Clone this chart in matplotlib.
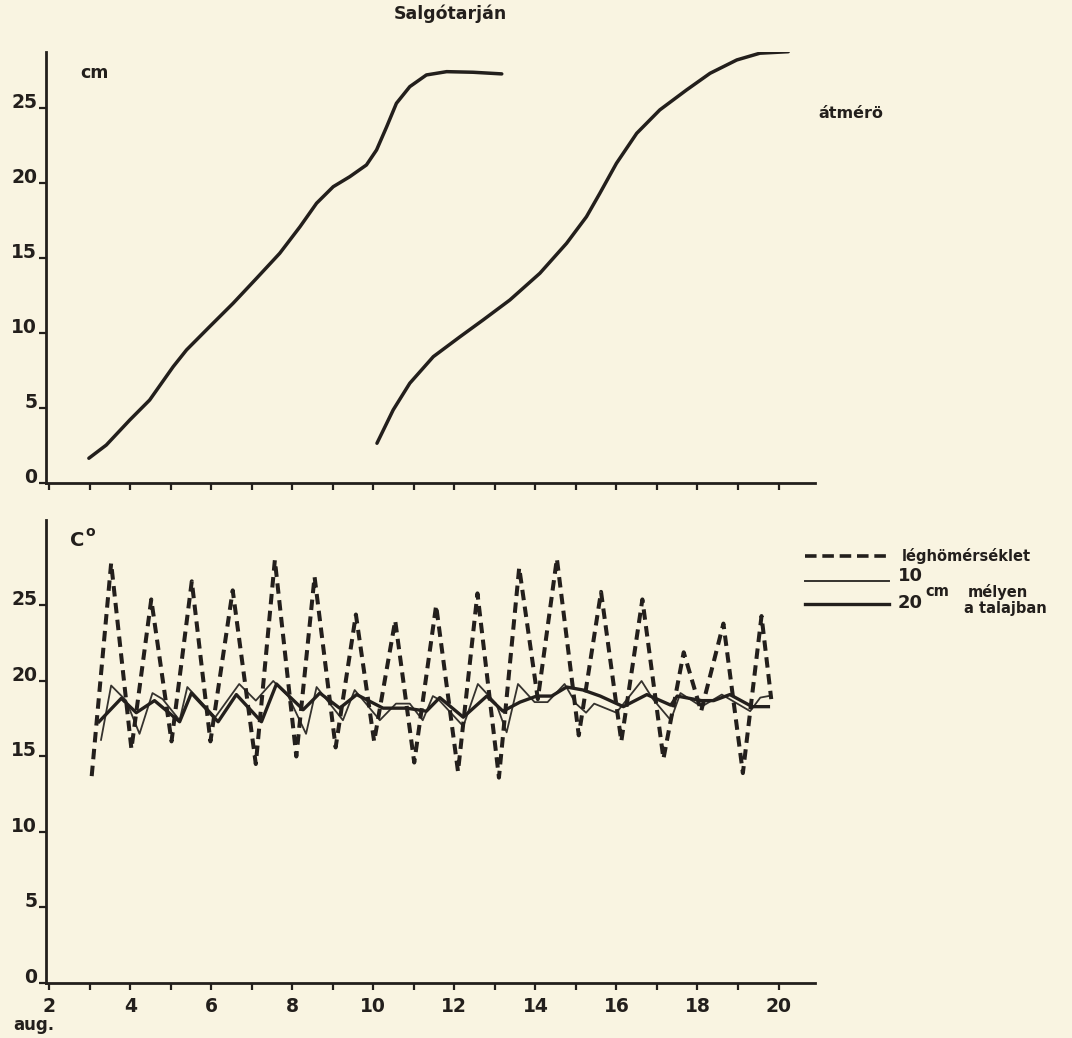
import matplotlib.pyplot as plt
from matplotlib.lines import Line2D

# top panel: diameter growth (cm)
d1_x = [2.98, 3.41, 3.99, 4.48, 5.06, 5.39, 5.96, 6.54, 7.12, 7.69, 8.19, 8.6, 9.01, 9.42,
        9.83, 10.08, 10.33, 10.57, 10.9, 11.31, 11.81, 12.46, 13.17]
d1_y = [1.67, 2.55, 4.22, 5.55, 7.77, 8.89, 10.44, 12.0, 13.67, 15.33, 17.1, 18.67, 19.77, 20.44,
        21.22, 22.22, 23.77, 25.33, 26.44, 27.22, 27.44, 27.4, 27.29]
d2_x = [10.09, 10.49, 10.9, 11.48, 12.14, 12.71, 13.37, 14.11, 14.77, 15.26, 15.59, 16.0, 16.5,
        17.07, 17.73, 18.31, 18.97, 19.54, 20.24]
d2_y = [2.67, 4.89, 6.67, 8.44, 9.77, 10.89, 12.22, 14.0, 16.0, 17.77, 19.33, 21.33, 23.33,
        24.89, 26.22, 27.33, 28.22, 28.67, 28.77]

# bottom panel: temperatures (C)
air_x = [3.05, 3.53, 4.03, 4.52, 5.02, 5.52, 5.98, 6.53, 7.1, 7.57, 8.1, 8.55, 9.07, 9.57,
         10.02, 10.54, 11.01, 11.55, 12.09, 12.57, 13.1, 13.6, 14.06, 14.53, 15.07, 15.62,
         16.12, 16.64, 17.16, 17.66, 18.09, 18.64, 19.12, 19.58, 19.82]
air_y = [13.7, 27.8, 15.5, 25.4, 16.0, 26.6, 16.0, 26.0, 14.5, 28.0, 15.0, 26.9, 15.6, 24.4,
         16.0, 24.0, 14.6, 25.0, 14.0, 25.8, 13.6, 27.5, 18.8, 28.1, 16.4, 25.9,
         16.0, 25.4, 14.85, 21.9, 18.0, 23.8, 13.9, 24.3, 18.8]

s10_x = [3.28, 3.53, 3.9, 4.23, 4.55, 4.8, 5.22, 5.41, 6.1, 6.69, 7.1, 7.53, 7.9, 8.34, 8.6,
         9.25, 9.54, 10.16, 10.56, 10.9, 11.22, 11.47, 11.6, 12.22, 12.58, 13.03, 13.29, 13.57,
         13.98, 14.3, 14.72, 15.0, 15.25, 15.45, 16.0, 16.62, 16.9, 17.34, 17.58, 18.1, 18.6,
         19.3, 19.55, 19.75]
s10_y = [16.1, 19.7, 18.7, 16.5, 19.2, 18.8, 17.4, 19.6, 17.6, 19.8, 18.7, 20.0, 19.0, 16.5, 19.6,
         17.4, 19.4, 17.4, 18.5, 18.5, 17.4, 19.0, 18.8, 17.0, 19.8, 18.5, 16.6, 19.8,
         18.6, 18.6, 19.8, 18.5, 17.9, 18.5, 17.9, 20.0, 18.8, 17.4, 19.2, 18.3, 19.1,
         18.0, 18.9, 19.0]

s20_x = [3.23, 3.78, 4.15, 4.6, 5.22, 5.51, 6.17, 6.62, 7.24, 7.61, 8.27, 8.68, 9.17, 9.59,
         10.24, 10.82, 11.31, 11.64, 12.22, 12.8, 13.2, 13.62, 14.03, 14.4, 14.77, 15.18, 15.6,
         16.17, 16.75, 17.34, 17.5, 18.1, 18.4, 18.8, 19.35, 19.75]
s20_y = [17.3, 18.85, 17.9, 18.7, 17.3, 19.2, 17.3, 19.1, 17.3, 19.8, 18.1, 19.2, 18.2, 19.1,
         18.2, 18.2, 18.0, 18.9, 17.6, 19.0, 18.0, 18.6, 19.0, 19.0, 19.6, 19.4, 19.0,
         18.3, 19.1, 18.4, 19.0, 18.7, 18.7, 19.1, 18.3, 18.3]

yticks = [0, 5, 10, 15, 20, 25]
day_ticks = list(range(2, 21))
day_labels = [str(d) if d % 2 == 0 else '' for d in day_ticks]

W, H = 1072, 1038
paper = '#f9f4e1'
ink = '#231f1c'
FONT = 'DejaVu Sans'


def fx(px):
    return px / W


def fy(py):
    return 1 - py / H


def style_axes(ax, ytop, show_xlabels):
    ax.set_facecolor('none')
    ax.set_xlim(1.91, 20.9)
    ax.set_ylim(0, ytop)
    for s in ['top', 'right']:
        ax.spines[s].set_visible(False)
    for s in ['left', 'bottom']:
        ax.spines[s].set_linewidth(2.0)
        ax.spines[s].set_color(ink)
    ax.set_yticks(yticks)
    ax.set_yticklabels([str(v) for v in yticks])
    ax.set_xticks(day_ticks)
    if show_xlabels:
        ax.set_xticklabels(day_labels)
    else:
        ax.set_xticklabels([])
    ax.tick_params(axis='both', direction='out', length=5, width=1.6, color=ink,
                   labelcolor=ink, labelsize=13.5)
    ax.tick_params(axis='y', pad=1)
    ax.tick_params(axis='x', pad=5)
    for lab in ax.get_yticklabels() + ax.get_xticklabels():
        lab.set_fontweight('bold')
        lab.set_fontfamily(FONT)
    for lab in ax.get_yticklabels():
        lab.set_va('baseline')


fig = plt.figure(figsize=(W / 100, H / 100), dpi=100)
fig.patch.set_facecolor(paper)

ax1 = fig.add_axes([fx(45.5), fy(483.3), (815 - 45.5) / W, (483.3 - 51.7) / H])
ax2 = fig.add_axes([fx(45.5), fy(983), (815 - 45.5) / W, (983 - 520) / H])

ax1.plot(d1_x, d1_y, color=ink, lw=2.5, solid_capstyle='round', solid_joinstyle='round')
ax1.plot(d2_x, d2_y, color=ink, lw=2.5, solid_capstyle='round', solid_joinstyle='round')
style_axes(ax1, 28.77, False)

ax2.plot(s10_x, s10_y, color='#35322e', lw=1.3)
ax2.plot(s20_x, s20_y, color=ink, lw=2.4)
ax2.plot(air_x, air_y, color=ink, lw=2.9, linestyle=(0, (2.6, 1.6)))
style_axes(ax2, 30.66, True)

tkw = dict(color=ink, fontweight='bold', family=FONT)
fig.text(fx(450), fy(14), 'Salgótarján', ha='center', va='center', fontsize=12.5, **tkw)
fig.text(fx(80), fy(73), 'cm', ha='left', va='center', fontsize=12.5, **tkw)
fig.text(fx(818), fy(113), 'átmérö', ha='left', va='center', fontsize=11.5, **tkw)
fig.text(fx(70), fy(541), 'C', ha='left', va='center', fontsize=14, **tkw)
fig.text(fx(85), fy(532), 'o', ha='left', va='center', fontsize=10, **tkw)
fig.text(fx(34), fy(1025), 'aug.', ha='center', va='center', fontsize=12, **tkw)

# legend
fig.add_artist(Line2D([fx(805), fx(887)], [fy(556), fy(556)], color=ink, lw=2.6,
                      linestyle=(0, (3.2, 1.6))))
fig.add_artist(Line2D([fx(805), fx(889)], [fy(581), fy(581)], color='#35322e', lw=1.4))
fig.add_artist(Line2D([fx(805), fx(889)], [fy(604), fy(604)], color=ink, lw=2.4))
fig.text(fx(902), fy(556), 'léghömérséklet', ha='left', va='center', fontsize=10.5, **tkw)
fig.text(fx(898), fy(576), '10', ha='left', va='center', fontsize=13, **tkw)
fig.text(fx(925), fy(592), 'cm', ha='left', va='center', fontsize=10.5, **tkw)
fig.text(fx(968), fy(592), 'mélyen', ha='left', va='center', fontsize=10.5, **tkw)
fig.text(fx(898), fy(603), '20', ha='left', va='center', fontsize=13, **tkw)
fig.text(fx(964), fy(609), 'a talajban', ha='left', va='center', fontsize=10.5, **tkw)

fig.savefig('out.png', dpi=100, facecolor=paper)
